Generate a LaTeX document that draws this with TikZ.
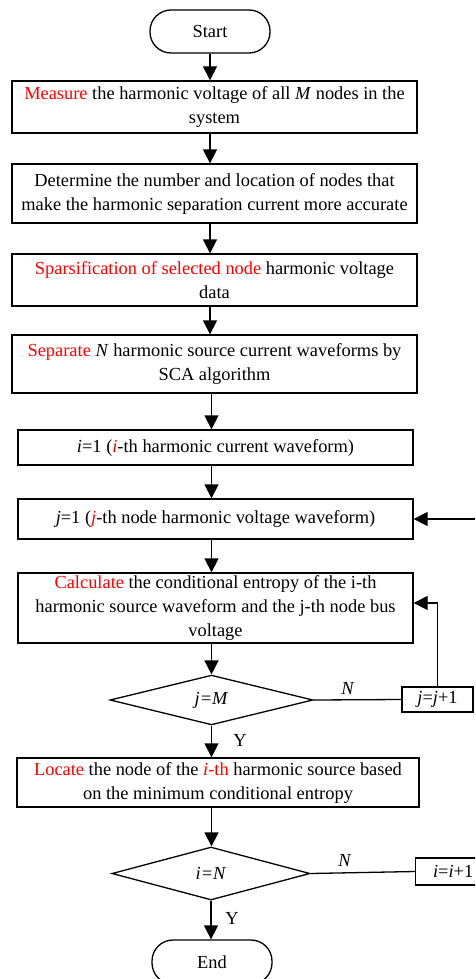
\documentclass[tikz,border=0pt]{standalone}
\usepackage{fontspec}
\setmainfont{Liberation Serif}
\usetikzlibrary{arrows.meta,shapes.geometric}

\begin{document}
\begin{tikzpicture}[x=1pt,y=-1pt,
  line width=1.3pt,
  txt/.style={font=\fontsize{18.4}{24}\selectfont},
  stepbox/.style={txt,draw,rectangle,align=center,inner sep=0pt},
  term/.style={txt,draw,rectangle,rounded corners=21pt,minimum width=120pt,minimum height=43pt,inner sep=0pt},
  decide/.style={txt,draw,diamond,inner sep=0pt},
  arr/.style={-{Triangle[length=14pt,width=14pt]}}]
\useasboundingbox (0,0) rectangle (475,979);
\clip (0,0) rectangle (475,979);

\node[term] (start) at (210,31.5) {Start};

\node[stepbox,minimum width=405pt,minimum height=52pt] (b1) at (214.5,107)
  {\textcolor{red}{Measure} the harmonic voltage of all \textit{M} nodes in the\\system};
\node[stepbox,minimum width=405pt,minimum height=59pt] (b2) at (214.5,193.5)
  {Determine the number and location of nodes that\\make the harmonic separation current more accurate};
\node[stepbox,minimum width=405pt,minimum height=52pt] (b3) at (214.5,280)
  {\textcolor{red}{Sparsification of selected node} harmonic voltage\\data};
\node[stepbox,minimum width=405pt,minimum height=58pt] (b4) at (214.5,364)
  {\textcolor{red}{Separate} \textit{N} harmonic source current waveforms by\\SCA algorithm};
\node[stepbox,minimum width=395pt,minimum height=35pt] (b5) at (215.5,447.5)
  {\textit{i}=1 (\textcolor{red}{\textit{i}}-th harmonic current waveform)};
\node[stepbox,minimum width=395pt,minimum height=40pt] (b6) at (215.5,519)
  {\textit{j}=1 (\textcolor{red}{\textit{j}}-th node harmonic voltage waveform)};
\node[stepbox,minimum width=395pt,minimum height=70pt] (b7) at (215.5,608)
  {\textcolor{red}{Calculate} the conditional entropy of the i-th\\harmonic source waveform and the j-th node bus\\voltage};
\node[decide,minimum width=203pt,minimum height=40pt] (d1) at (211.5,700) {\textit{j=M}};
\node[stepbox,minimum width=71pt,minimum height=25pt] (jinc) at (437.5,699.5) {\textit{j}=\textit{j}+1};
\node[stepbox,minimum width=402pt,minimum height=49pt] (b8) at (218,782.5)
  {\textcolor{red}{Locate} the node of the \textcolor{red}{\textit{i}-th} harmonic source based\\on the minimum conditional entropy};
\node[decide,minimum width=198pt,minimum height=53pt] (d2) at (211,873.5) {\textit{i=N}};
\node[stepbox,minimum width=75pt,minimum height=27pt,anchor=west] (iinc) at (415,871.5) {\textit{i}=\textit{i}+1};
\node[term,minimum width=120pt,minimum height=44pt] (end) at (212,962) {End};

% main column
\draw[arr] (start.south) -- (start.south |- b1.north);
\draw[arr] (b1.south -| start) -- (b2.north -| start);
\draw[arr] (b2.south -| start) -- (b3.north -| start);
\draw[arr] (b3.south -| start) -- (b4.north -| start);
\draw[arr] (b4.south -| d1) -- (b5.north -| d1);
\draw[arr] (b5.south -| d1) -- (b6.north -| d1);
\draw[arr] (b6.south -| d1) -- (b7.north -| d1);
\draw[arr] (b7.south -| d1) -- (d1.north);
\draw[arr] (d1.south) -- (b8.north -| d1);
\draw[arr] (b8.south -| d1) -- (d2.north -| d1);
\draw[arr] (d2.south) -- (end.north -| d2);

% inner loop over nodes
\draw (d1.east) -- (jinc.west);
\draw[arr] (jinc.north) |- ([yshift=5pt]b7.east);
% outer loop over harmonic sources
\draw (d2.east) -- (iinc.west);
\coordinate (outer) at (480,519);
\draw[arr] (outer) -- (b6.east);

% branch labels
\node[txt] (n1) at (348,688) {\textit{N}};
\node[txt] (y1) at (240,740) {Y};
\node[txt] (n2) at (345,860) {\textit{N}};
\node[txt] (y2) at (232,918) {Y};
\end{tikzpicture}
\end{document}
